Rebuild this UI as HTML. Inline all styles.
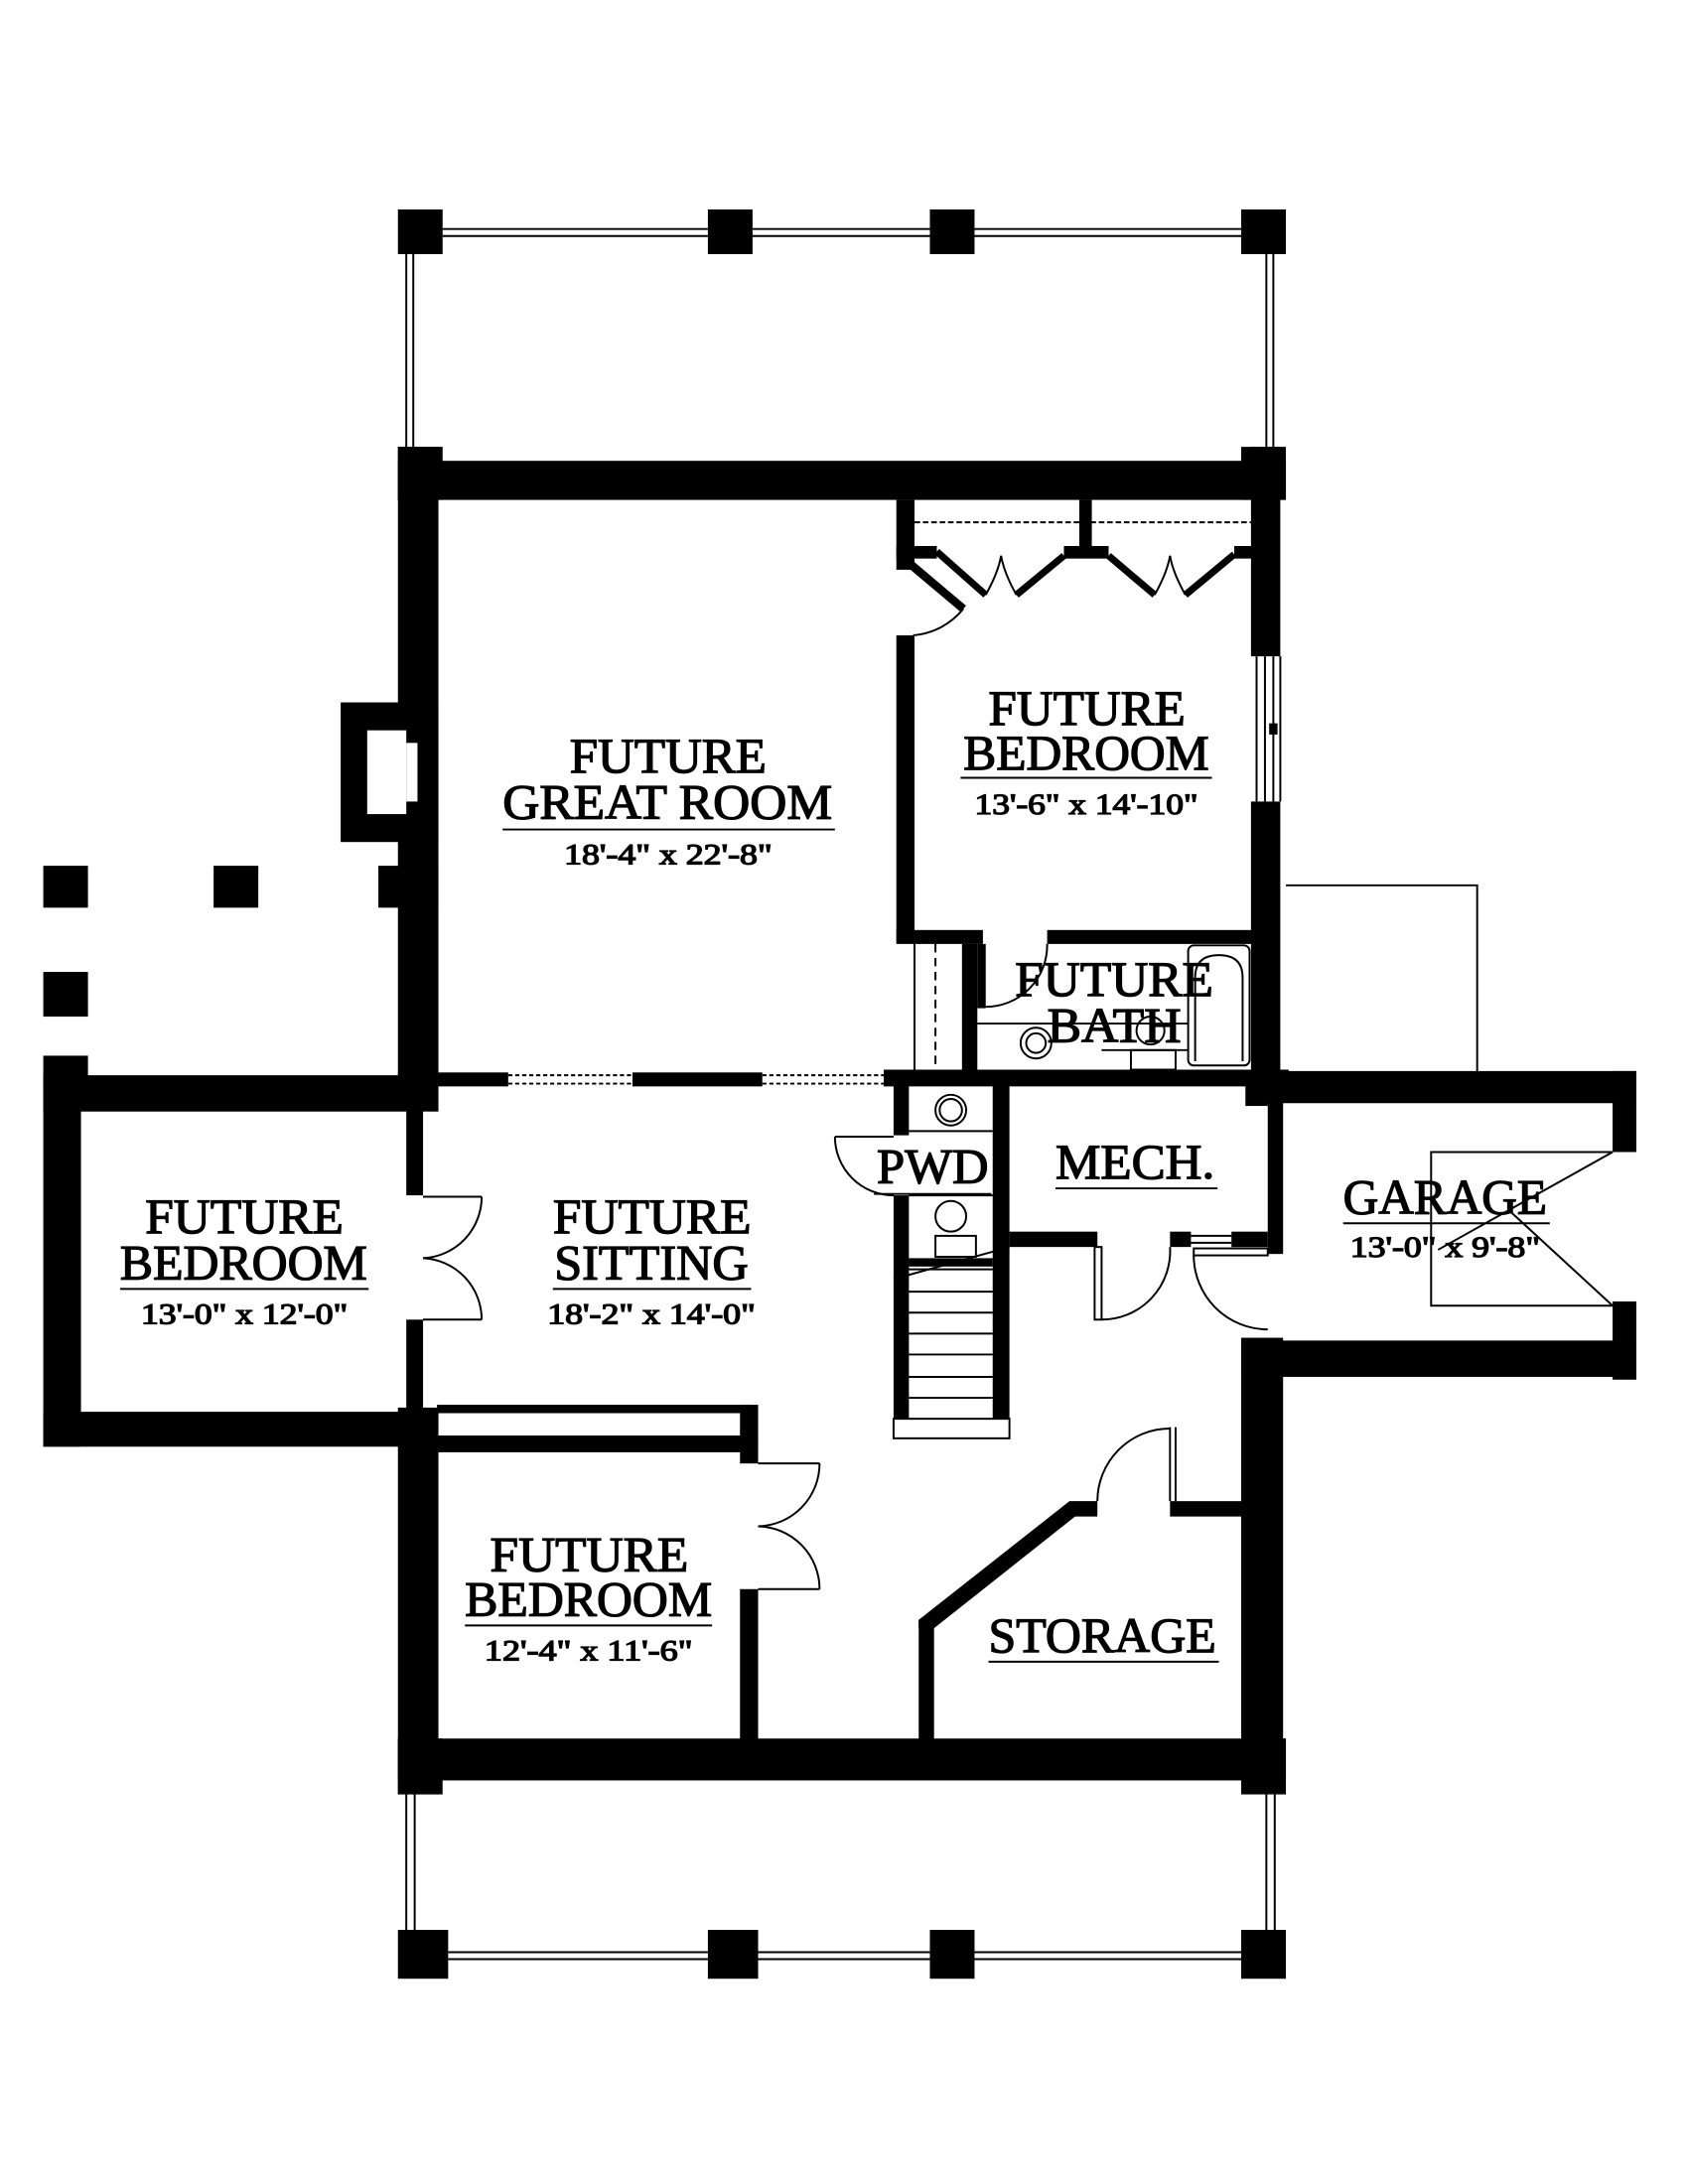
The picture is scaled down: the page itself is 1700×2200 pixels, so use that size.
<!DOCTYPE html>
<html><head><meta charset="utf-8"><style>
html,body{margin:0;padding:0;background:#fff;}
svg{display:block;}
text{font-family:"Liberation Serif","Times New Roman",serif;fill:#000;stroke:#000;stroke-width:0.9;}
</style></head><body>
<svg width="1700" height="2200" viewBox="0 0 1209 1564" preserveAspectRatio="none" xmlns="http://www.w3.org/2000/svg">
<rect width="1209" height="1564" fill="#fff"/>
<g fill="#000">
<rect x="285" y="150" width="32" height="32"/><rect x="507" y="150" width="32" height="32"/>
<rect x="666" y="150" width="32" height="32"/><rect x="889" y="150" width="32" height="32"/>
<rect x="285" y="320" width="32" height="38"/><rect x="889" y="320" width="32" height="38"/>
<rect x="285" y="330" width="636" height="28"/>
<rect x="285" y="320" width="29" height="458"/>
<rect x="244" y="503" width="70" height="100"/>
<rect x="271" y="620" width="43" height="30"/>
<rect x="31" y="620" width="32" height="30"/><rect x="153" y="620" width="32" height="30"/>
<rect x="31" y="696" width="32" height="32"/>
<rect x="896" y="320" width="21" height="150"/><rect x="896" y="574" width="21" height="216"/>
<rect x="642" y="358" width="13" height="50"/><rect x="642" y="455" width="13" height="220"/>
<rect x="773" y="358" width="9" height="40"/>
<rect x="642" y="391" width="29" height="9"/><rect x="762" y="391" width="32" height="9"/><rect x="884" y="391" width="13" height="9"/>
<rect x="642" y="666" width="62" height="10"/><rect x="750" y="666" width="147" height="10"/>
<rect x="689" y="676" width="11" height="92"/><rect x="700" y="676" width="6" height="46"/>
<rect x="285" y="768" width="79" height="10"/><rect x="453" y="768" width="93" height="10"/>
<rect x="633" y="766" width="290" height="12"/>
<rect x="897" y="767" width="275" height="23"/>
<rect x="31" y="756" width="32" height="20"/>
<rect x="31" y="770" width="283" height="26"/>
<rect x="31" y="770" width="27" height="266"/>
<rect x="31" y="1011" width="283" height="25"/>
<rect x="291" y="770" width="12" height="86"/><rect x="291" y="945" width="12" height="91"/>
<rect x="285" y="1008" width="29" height="277"/>
<rect x="313" y="1006" width="225" height="6"/>
<rect x="313" y="1028" width="230" height="12"/>
<rect x="530" y="1006" width="13" height="42"/><rect x="530" y="1138" width="13" height="110"/>
<rect x="285" y="1245" width="636" height="30"/>
<rect x="285" y="1245" width="32" height="40"/><rect x="889" y="1245" width="32" height="40"/>
<rect x="285" y="1382" width="36" height="35"/><rect x="507" y="1382" width="36" height="35"/>
<rect x="666" y="1382" width="32" height="35"/><rect x="889" y="1382" width="32" height="35"/>
<rect x="640" y="777" width="11" height="36"/><rect x="640" y="856" width="11" height="160"/>
<rect x="711" y="777" width="12" height="239"/>
<rect x="651" y="901" width="60" height="6"/>
<rect x="723" y="882" width="63" height="11"/><rect x="838" y="882" width="15" height="11"/><rect x="882" y="882" width="26" height="11"/>
<rect x="892" y="777" width="16" height="15"/>
<rect x="908" y="777" width="11" height="121"/>
<rect x="1155" y="767" width="17" height="58"/><rect x="1155" y="932" width="17" height="56"/>
<rect x="889" y="958" width="30" height="302"/>
<rect x="889" y="960" width="283" height="26"/>
<rect x="658" y="1160" width="11" height="88"/>
<polygon points="658,1160 766,1075 786,1075 786,1086 770,1086 669,1166 658,1166"/>
<rect x="838" y="1075" width="54" height="11"/>
<rect x="892" y="986" width="24" height="262"/>
</g>
<g fill="#fff">
<rect x="263" y="523" width="28" height="60"/><rect x="291" y="532" width="8" height="42"/>
</g>
<g fill="none" stroke="#000" stroke-width="1.4">
<line x1="317" y1="164" x2="507" y2="164"/><line x1="317" y1="169" x2="507" y2="169"/>
<line x1="539" y1="164" x2="666" y2="164"/><line x1="539" y1="169" x2="666" y2="169"/>
<line x1="698" y1="164" x2="889" y2="164"/><line x1="698" y1="169" x2="889" y2="169"/>
<line x1="291" y1="182" x2="291" y2="320"/><line x1="296" y1="182" x2="296" y2="320"/>
<line x1="907" y1="182" x2="907" y2="320"/><line x1="912" y1="182" x2="912" y2="320"/>
<line x1="321" y1="1398" x2="507" y2="1398"/><line x1="321" y1="1403" x2="507" y2="1403"/>
<line x1="543" y1="1398" x2="666" y2="1398"/><line x1="543" y1="1403" x2="666" y2="1403"/>
<line x1="698" y1="1398" x2="889" y2="1398"/><line x1="698" y1="1403" x2="889" y2="1403"/>
<line x1="291" y1="1285" x2="291" y2="1382"/><line x1="297" y1="1285" x2="297" y2="1382"/>
<line x1="907" y1="1285" x2="907" y2="1382"/><line x1="913" y1="1285" x2="913" y2="1382"/>
<line x1="364" y1="770" x2="453" y2="770" stroke-dasharray="3,2"/><line x1="364" y1="776" x2="453" y2="776" stroke-dasharray="3,2"/>
<line x1="546" y1="770" x2="633" y2="770" stroke-dasharray="3,2"/><line x1="546" y1="776" x2="633" y2="776" stroke-dasharray="3,2"/>
<line x1="900" y1="470" x2="900" y2="574"/><line x1="906" y1="470" x2="906" y2="574"/><line x1="912" y1="470" x2="912" y2="574"/><line x1="917" y1="470" x2="917" y2="574"/>
<line x1="655" y1="374" x2="896" y2="374" stroke-dasharray="4,2"/>
<line x1="655" y1="676" x2="655" y2="768"/>
<line x1="670" y1="676" x2="670" y2="768" stroke-dasharray="6,4"/>
<polyline points="921,634 1058,634 1058,768"/>
<rect x="851" y="677" width="44" height="86" rx="4"/>
<path d="M856 760 L856 700 Q856 684 873 684 Q890 684 890 700 L890 760"/>
<line x1="700" y1="733" x2="851" y2="733"/>
<line x1="789" y1="752" x2="851" y2="752"/>
<rect x="810" y="752" width="32" height="14"/>
<ellipse cx="742" cy="747" rx="11" ry="11"/><ellipse cx="742" cy="747" rx="7" ry="7"/>
<ellipse cx="824" cy="738" rx="10" ry="10"/>
<circle cx="681" cy="795" r="11"/><circle cx="681" cy="795" r="8"/>
<line x1="651" y1="810" x2="711" y2="810"/>
<line x1="651" y1="856" x2="711" y2="856"/>
<circle cx="681" cy="871" r="11"/>
<rect x="670" y="885" width="29" height="15"/>
<line x1="598" y1="814" x2="640" y2="814"/>
<path d="M598 814 A42 42 0 0 0 640 856"/>
<line x1="651" y1="909" x2="711" y2="909"/><line x1="651" y1="925" x2="711" y2="925"/>
<line x1="651" y1="940" x2="711" y2="940"/><line x1="651" y1="955" x2="711" y2="955"/>
<line x1="651" y1="970" x2="711" y2="970"/><line x1="651" y1="986" x2="711" y2="986"/>
<line x1="651" y1="1001" x2="711" y2="1001"/>
<rect x="640" y="1016" width="83" height="14"/>
<line x1="640" y1="916" x2="723" y2="893"/>
<line x1="671" y1="395" x2="706" y2="426" stroke-width="5"/>
<line x1="728" y1="426" x2="762" y2="398" stroke-width="5"/>
<line x1="794" y1="398" x2="827" y2="426" stroke-width="5"/>
<line x1="849" y1="426" x2="884" y2="397" stroke-width="5"/>
<path d="M706 426 Q715 410 717 398 Q719 410 728 426"/>
<path d="M827 426 Q836 410 838 398 Q840 410 849 426"/>
<line x1="652" y1="404" x2="690" y2="436" stroke-width="6"/>
<path d="M690 436 A52 52 0 0 1 654 455"/>
<path d="M706 721 A44 44 0 0 0 750 676"/>
<line x1="303" y1="857" x2="345" y2="857"/><line x1="303" y1="945" x2="345" y2="945"/>
<path d="M345 857 A44 44 0 0 1 303 901"/><path d="M345 945 A44 44 0 0 0 303 901"/>
<line x1="543" y1="1048" x2="587" y2="1048"/><line x1="543" y1="1138" x2="587" y2="1138"/>
<path d="M587 1048 A45 45 0 0 1 543 1093"/><path d="M587 1138 A45 45 0 0 0 543 1093"/>
<rect x="784" y="893" width="5" height="52"/>
<path d="M789 945 A49 49 0 0 0 838 893"/>
<line x1="853" y1="885" x2="882" y2="885"/><line x1="853" y1="890" x2="882" y2="890"/>
<rect x="855" y="894" width="53" height="5"/>
<path d="M855 899 A53 53 0 0 0 908 952"/>
<polyline points="1155,825 1025,825 1025,935 1155,935"/>
<line x1="1155" y1="825" x2="1030" y2="895"/>
<line x1="1080" y1="866" x2="1155" y2="935"/>
<line x1="838" y1="1022" x2="838" y2="1075"/><line x1="842" y1="1022" x2="842" y2="1075"/>
<path d="M786 1075 A52 52 0 0 1 838 1023"/>
<line x1="360" y1="594" x2="598" y2="594"/>
<line x1="688" y1="557" x2="868" y2="557"/>
<line x1="86" y1="923" x2="264" y2="923"/>
<line x1="396" y1="923" x2="538" y2="923"/>
<line x1="626" y1="855" x2="710" y2="855"/>
<line x1="756" y1="851" x2="872" y2="851"/>
<line x1="962" y1="876" x2="1110" y2="876"/>
<line x1="333" y1="1164" x2="510" y2="1164"/>
<line x1="708" y1="1190" x2="873" y2="1190"/>
</g>
<rect x="909" y="518" width="6" height="8" fill="#000"/>
<g font-size="35" font-family="Liberation Serif, serif">
<text x="408" y="553" textLength="141" lengthAdjust="spacingAndGlyphs">FUTURE</text>
<text x="360" y="586" textLength="236" lengthAdjust="spacingAndGlyphs">GREAT ROOM</text>
<text x="708" y="519" textLength="141" lengthAdjust="spacingAndGlyphs">FUTURE</text>
<text x="690" y="551" textLength="176" lengthAdjust="spacingAndGlyphs">BEDROOM</text>
<text x="727" y="713" textLength="142" lengthAdjust="spacingAndGlyphs">FUTURE</text>
<text x="750" y="746" textLength="96" lengthAdjust="spacingAndGlyphs">BATH</text>
<text x="104" y="883" textLength="142" lengthAdjust="spacingAndGlyphs">FUTURE</text>
<text x="86" y="916" textLength="177" lengthAdjust="spacingAndGlyphs">BEDROOM</text>
<text x="396" y="883" textLength="142" lengthAdjust="spacingAndGlyphs">FUTURE</text>
<text x="397" y="916" textLength="139" lengthAdjust="spacingAndGlyphs">SITTING</text>
<text x="628" y="847" textLength="80" lengthAdjust="spacingAndGlyphs">PWD</text>
<text x="756" y="844" textLength="114" lengthAdjust="spacingAndGlyphs">MECH.</text>
<text x="962" y="869" textLength="146" lengthAdjust="spacingAndGlyphs">GARAGE</text>
<text x="351" y="1125" textLength="142" lengthAdjust="spacingAndGlyphs">FUTURE</text>
<text x="333" y="1157" textLength="177" lengthAdjust="spacingAndGlyphs">BEDROOM</text>
<text x="708" y="1183" textLength="163" lengthAdjust="spacingAndGlyphs">STORAGE</text>
</g>
<g font-size="21" font-family="Liberation Serif, serif">
<text x="404" y="619" textLength="149" lengthAdjust="spacingAndGlyphs">18'-4" x 22'-8"</text>
<text x="698" y="583" textLength="160" lengthAdjust="spacingAndGlyphs">13'-6" x 14'-10"</text>
<text x="101" y="948" textLength="148" lengthAdjust="spacingAndGlyphs">13'-0" x 12'-0"</text>
<text x="392" y="948" textLength="149" lengthAdjust="spacingAndGlyphs">18'-2" x 14'-0"</text>
<text x="967" y="900" textLength="136" lengthAdjust="spacingAndGlyphs">13'-0" x 9'-8"</text>
<text x="347" y="1189" textLength="149" lengthAdjust="spacingAndGlyphs">12'-4" x 11'-6"</text>
</g>
</svg>
</body></html>
